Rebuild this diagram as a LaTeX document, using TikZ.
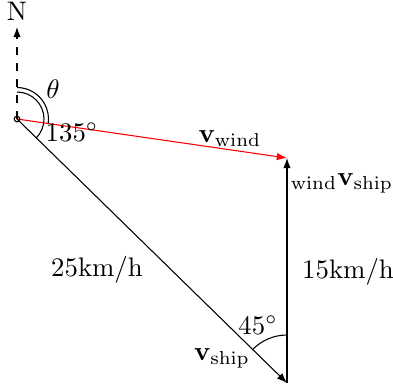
\documentclass[tikz,border=0pt]{standalone}
\usetikzlibrary{arrows.meta}
\begin{document}
\begin{tikzpicture}[x=0.373pt,y=-0.373pt,
  vec/.style={-{Latex[length=3.8pt,width=2.8pt]}},
  lbl/.style={inner sep=0pt}]
\useasboundingbox (0,0) rectangle (393,390);
\coordinate (O) at (17,119);
\coordinate (Nt) at (17,27);
\coordinate (W) at (287,158);
\coordinate (S) at (287,383);
\draw[vec,dashed] (O) -- (Nt);
\node[lbl] (N) at (17,11) {N};
\draw[vec,red] (O) -- (W);
\draw[vec] (O) -- (S);
\draw[vec] (S) -- (W);
\draw (O) circle (2.8);
% angles
\draw ([shift={(0,-27)}]O) arc[start angle=-90,end angle=45,radius=27];
\draw ([shift={(0,-31.5)}]O) arc[start angle=-90,end angle=8.2,radius=31.5];
\draw ([shift={(0,-48)}]S) arc[start angle=-90,end angle=-135,radius=48];
\node[lbl] (th) at (53,89) {$\theta$};
\node[lbl] (a135) at (72,132) {$135^\circ$};
\node[lbl] (vw) at (230,139) {$\mathbf{v}_{\mathrm{wind}}$};
\node[lbl] (wvs) at (342,183) {${}_{\mathrm{wind}}\mathbf{v}_{\mathrm{ship}}$};
\node[lbl] (d25) at (97,270) {25km/h};
\node[lbl] (d15) at (348,272) {15km/h};
\node[lbl] (a45) at (258,325) {$45^\circ$};
\node[lbl] (vs) at (222,358) {$\mathbf{v}_{\mathrm{ship}}$};
\end{tikzpicture}
\end{document}
